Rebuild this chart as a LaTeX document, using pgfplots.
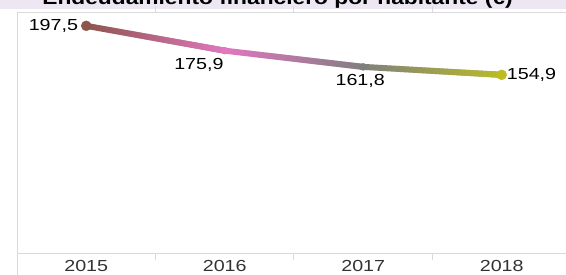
\documentclass[border=0pt]{standalone}
\usepackage{fontspec}
\setmainfont{Liberation Sans}[FakeStretch=1.23]
\usepackage{pgfplots}
\pgfplotsset{compat=1.18}
\usetikzlibrary{fadings}
\definecolor{cbrown}{HTML}{8C564B}
\definecolor{cpink}{HTML}{E377C2}
\definecolor{cgray}{HTML}{7F7F7F}
\definecolor{colive}{HTML}{BCBD22}
\definecolor{titlebg}{HTML}{ECE7F3}
\definecolor{framec}{HTML}{D9D9D9}
\begin{document}
\begin{tikzpicture}[x=1pt,y=1pt]
\useasboundingbox (0,0) rectangle (566,274);
\clip (0,0) rectangle (566,274);
\fill[titlebg] (0,265) rectangle (566,274);
\node[anchor=base, inner sep=0pt, font=\fontsize{18.5}{20}\selectfont\bfseries] at (277.5,269.5) {Endeudamiento financiero por habitante (€)};
\begin{axis}[
  at={(17pt,21pt)}, anchor=south west,
  scale only axis, width=553pt, height=240.4pt,
  xmin=-0.5, xmax=3.493, ymin=0, ymax=209,
  axis line style={draw=framec},
  ytick=\empty,
  xtick={0,1,2,3},
  xticklabels={2015,2016,2017,2018},
  major tick length=0pt,
  xticklabel style={anchor=base, yshift=-18.5pt, font=\fontsize{16}{18}\selectfont, text=black!80},
  extra x ticks={0.5,1.5,2.5},
  extra x tick labels={},
  extra x tick style={tick align=outside, major tick length=7pt, tick style={draw=framec, line width=1pt}},
  clip=false,
]
\draw[framec] (rel axis cs:0,0) -- ([yshift=-30pt]rel axis cs:0,0);
% segment colours
\addplot[cbrown, line width=6pt, line cap=round] coordinates {(0,197.5) (1,175.9)};
\addplot[cpink, line width=6pt, line cap=round, path fading=west] coordinates {(0,197.5) (1,175.9)};
\addplot[cpink, line width=6pt, line cap=round] coordinates {(1,175.9) (2,161.8)};
\addplot[cgray, line width=6pt, line cap=round, path fading=west] coordinates {(1,175.9) (2,161.8)};
\addplot[cgray, line width=6pt, line cap=round] coordinates {(2,161.8) (3,154.9)};
\addplot[colive, line width=6pt, line cap=round, path fading=west] coordinates {(2,161.8) (3,154.9)};
% markers
\addplot[only marks, mark=*, mark size=5pt, cbrown] coordinates {(0,197.5)};
\addplot[only marks, mark=*, mark size=3.5pt, cpink] coordinates {(1,175.9)};
\addplot[only marks, mark=*, mark size=3.5pt, cgray] coordinates {(2,161.8)};
\addplot[only marks, mark=*, mark size=5pt, colive] coordinates {(3,154.9)};
% labels
\node[anchor=east, inner sep=0pt, xshift=-8pt, font=\fontsize{16}{18}\selectfont] at (axis cs:0,197.5) {197,5};
\node[anchor=north east, inner sep=0pt, xshift=-1pt, yshift=-7pt, font=\fontsize{16}{18}\selectfont] at (axis cs:1,175.9) {175,9};
\node[anchor=north, inner sep=0pt, xshift=-3pt, yshift=-7pt, font=\fontsize{16}{18}\selectfont] at (axis cs:2,161.8) {161,8};
\node[anchor=west, inner sep=0pt, xshift=5pt, font=\fontsize{16}{18}\selectfont] at (axis cs:3,154.9) {154,9};
\end{axis}
\end{tikzpicture}
\end{document}
